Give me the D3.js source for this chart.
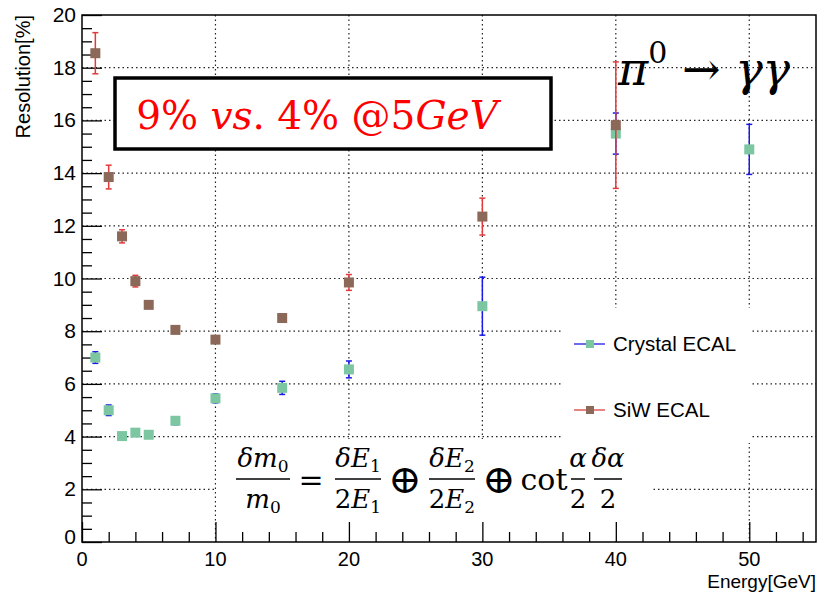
<!DOCTYPE html>
<html>
<head>
<meta charset="utf-8">
<script src="https://cdn.jsdelivr.net/npm/d3@7"></script>
<style>
  body { margin: 0; background: #fff; }
  text { font-family: "Liberation Sans", Arial, sans-serif; }
  .math { font-family: "DejaVu Serif", "Liberation Serif", serif; }
</style>
</head>
<body>
<svg id="chart" width="820" height="592"></svg>
<script>
// energies (GeV) and resolution (%)
var crystalE = [1, 2, 3, 4, 5, 7, 10, 15, 20, 30, 40, 50];
var crystalRes = [7.0, 5.0, 4.02, 4.15, 4.07, 4.6, 5.45, 5.85, 6.55, 8.95, 15.5, 14.9];
var crystalErr = [0.22, 0.2, 0, 0, 0, 0.15, 0.17, 0.25, 0.32, 1.1, 0.78, 0.95];

var siwE = [1, 2, 3, 4, 5, 7, 10, 15, 20, 30, 40];
var siwRes = [18.55, 13.85, 11.6, 9.9, 9.0, 8.05, 7.68, 8.5, 9.85, 12.35, 15.82];
var siwErr = [0.78, 0.45, 0.25, 0.22, 0, 0, 0, 0.1, 0.3, 0.7, 2.4];

var xTicks = [0, 10, 20, 30, 40, 50];
var yTicks = [0, 2, 4, 6, 8, 10, 12, 14, 16, 18, 20];

var svg = d3.select("#chart"),
  pLeft = 82, pRight = 816, pTop = 15, pBottom = 542;

var x = d3.scaleLinear().domain([0, 55]).range([pLeft, pRight]);
var y = d3.scaleLinear().domain([0, 20]).range([pBottom, pTop]);

// dotted grid
var grid = svg.append("g").attr("stroke", "#222").attr("stroke-width", 1.2)
  .attr("stroke-dasharray", "1.5,3");
grid.selectAll(".gx").data(xTicks.slice(1)).enter().append("line")
  .attr("x1", d => x(d)).attr("x2", d => x(d)).attr("y1", pTop).attr("y2", pBottom);
grid.selectAll(".gy").data(yTicks.slice(1, -1)).enter().append("line")
  .attr("x1", pLeft).attr("x2", pRight).attr("y1", d => y(d)).attr("y2", d => y(d));

// white boxes covering the grid (legend and formula)
svg.append("rect").attr("x", 563).attr("y", 308).attr("width", 189).attr("height", 135).attr("fill", "#fff");
svg.append("rect").attr("x", 216).attr("y", 439).attr("width", 437).attr("height", pBottom - 440).attr("fill", "#fff");

// frame
svg.append("rect").attr("x", pLeft).attr("y", pTop).attr("width", pRight - pLeft).attr("height", pBottom - pTop)
  .attr("fill", "none").attr("stroke", "#000").attr("stroke-width", 1.5);

// axes
var xAxis = d3.axisBottom(x).tickValues(d3.range(0, 56, 2)).tickSize(0).tickFormat("");
var gx = svg.append("g").attr("transform", "translate(0," + pBottom + ")").call(xAxis);
gx.select(".domain").remove();
gx.selectAll(".tick line").attr("y2", d => d % 10 === 0 ? -20 : -10).attr("stroke", "#000").attr("stroke-width", 1.3);
svg.selectAll(".xlab").data(xTicks).enter().append("text")
  .attr("x", d => x(d)).attr("y", 566).attr("text-anchor", "middle")
  .attr("font-size", 20).text(d => d);

var yAxis = d3.axisLeft(y).tickValues(d3.range(0, 20.01, 0.5)).tickSize(0).tickFormat("");
var gy = svg.append("g").attr("transform", "translate(" + pLeft + ",0)").call(yAxis);
gy.select(".domain").remove();
gy.selectAll(".tick line").attr("x2", d => d % 2 === 0 ? 20 : 10).attr("stroke", "#000").attr("stroke-width", 1.3);
svg.selectAll(".ylab").data(yTicks).enter().append("text")
  .attr("x", 76).attr("y", d => y(d) + (d === 0 ? 2 : 7)).attr("text-anchor", "end")
  .attr("font-size", 21).text(d => d);

svg.append("text").attr("x", pRight).attr("y", 588).attr("text-anchor", "end")
  .attr("font-size", 19).text("Energy[GeV]");
svg.append("text").attr("transform", "translate(30," + pTop + ") rotate(-90)")
  .attr("text-anchor", "end").attr("font-size", 20).text("Resolution[%]");

// data series
function drawSeries(E, R, Err, barColor, markColor) {
  var g = svg.append("g");
  var pts = E.map((e, i) => ({ e: e, r: R[i], err: Err[i] }));
  var bars = pts.filter(d => d.err > 0);
  g.selectAll(".bar").data(bars).enter().append("line")
    .attr("x1", d => x(d.e)).attr("x2", d => x(d.e))
    .attr("y1", d => y(d.r - d.err)).attr("y2", d => y(d.r + d.err))
    .attr("stroke", barColor).attr("stroke-width", 1.5);
  ["lo", "hi"].forEach(function (k) {
    g.selectAll(".cap" + k).data(bars).enter().append("line")
      .attr("x1", d => x(d.e) - 3).attr("x2", d => x(d.e) + 3)
      .attr("y1", d => y(k === "lo" ? d.r - d.err : d.r + d.err))
      .attr("y2", d => y(k === "lo" ? d.r - d.err : d.r + d.err))
      .attr("stroke", barColor).attr("stroke-width", 1.5);
  });
  g.selectAll(".pt").data(pts).enter().append("rect")
    .attr("x", d => x(d.e) - 5).attr("y", d => y(d.r) - 5)
    .attr("width", 10).attr("height", 10).attr("fill", markColor);
}
drawSeries(crystalE, crystalRes, crystalErr, "#1a1ae6", "#7dc6a2");
drawSeries(siwE, siwRes, siwErr, "#e23a3a", "#8b6858");

// legend
var legend = [
  { name: "Crystal ECAL", line: "#3a3ae6", mark: "#7dc6a2", y: 344 },
  { name: "SiW ECAL", line: "#e05a5a", mark: "#8b6858", y: 410 }
];
var lg = svg.selectAll(".leg").data(legend).enter().append("g");
lg.append("line").attr("x1", 574).attr("x2", 605).attr("y1", d => d.y).attr("y2", d => d.y)
  .attr("stroke", d => d.line).attr("stroke-width", 1.5);
lg.append("rect").attr("x", 586).attr("y", d => d.y - 4).attr("width", 8).attr("height", 8)
  .attr("fill", d => d.mark);
lg.append("text").attr("x", 613).attr("y", d => d.y + 7).attr("font-size", 20.5).text(d => d.name);

// annotation box
svg.append("rect").attr("x", 115).attr("y", 78).attr("width", 436).attr("height", 71)
  .attr("fill", "#fff").attr("stroke", "#000").attr("stroke-width", 3.5);
var t = svg.append("text").attr("class", "math").attr("x", 317).attr("y", 129)
  .attr("text-anchor", "middle").attr("font-size", 39).attr("fill", "#ff0000");
t.append("tspan").text("9% ");
t.append("tspan").attr("font-style", "italic").text("vs");
t.append("tspan").text(". 4% @5");
t.append("tspan").attr("font-style", "italic").text("GeV");

// pi0 -> gamma gamma
var p = svg.append("text").attr("class", "math").attr("x", 618).attr("y", 85).attr("font-size", 46);
p.append("tspan").attr("font-style", "italic").text("π");
p.append("tspan").attr("font-size", 30).attr("dy", -22).text("0");
p.append("tspan").attr("dy", 22).text(" → ");
p.append("tspan").attr("font-style", "italic").text("γγ");

// formula
var fm = svg.append("g").attr("class", "math");
function frac(cx, w, num, den) {
  fm.append("line").attr("x1", cx - w / 2).attr("x2", cx + w / 2).attr("y1", 479).attr("y2", 479)
    .attr("stroke", "#000").attr("stroke-width", 1.5);
  [[num, 467], [den, 508]].forEach(function (pr) {
    var tx = fm.append("text").attr("class", "math").attr("x", cx).attr("y", pr[1])
      .attr("text-anchor", "middle").attr("font-size", 26);
    pr[0].forEach(function (s) {
      var ts = tx.append("tspan").text(s[0]);
      if (s[1] === "i") ts.attr("font-style", "italic");
      if (s[1] === "sub") ts.attr("font-size", 17).attr("dy", 5);
    });
  });
}
frac(263, 54, [["δm", "i"], ["0", "sub"]], [["m", "i"], ["0", "sub"]]);
fm.append("text").attr("class", "math").attr("x", 311).attr("y", 490).attr("text-anchor", "middle")
  .attr("font-size", 30).text("=");
frac(358, 46, [["δE", "i"], ["1", "sub"]], [["2", ""], ["E", "i"], ["1", "sub"]]);
fm.append("text").attr("class", "math").attr("x", 405).attr("y", 493).attr("text-anchor", "middle")
  .attr("font-size", 40).text("⊕");
frac(452, 46, [["δE", "i"], ["2", "sub"]], [["2", ""], ["E", "i"], ["2", "sub"]]);
fm.append("text").attr("class", "math").attr("x", 499).attr("y", 493).attr("text-anchor", "middle")
  .attr("font-size", 40).text("⊕");
fm.append("text").attr("class", "math").attr("x", 544).attr("y", 490).attr("text-anchor", "middle")
  .attr("font-size", 30).text("cot");
frac(578, 14, [["α", "i"]], [["2", ""]]);
frac(608, 28, [["δα", "i"]], [["2", ""]]);
</script>
</body>
</html>
